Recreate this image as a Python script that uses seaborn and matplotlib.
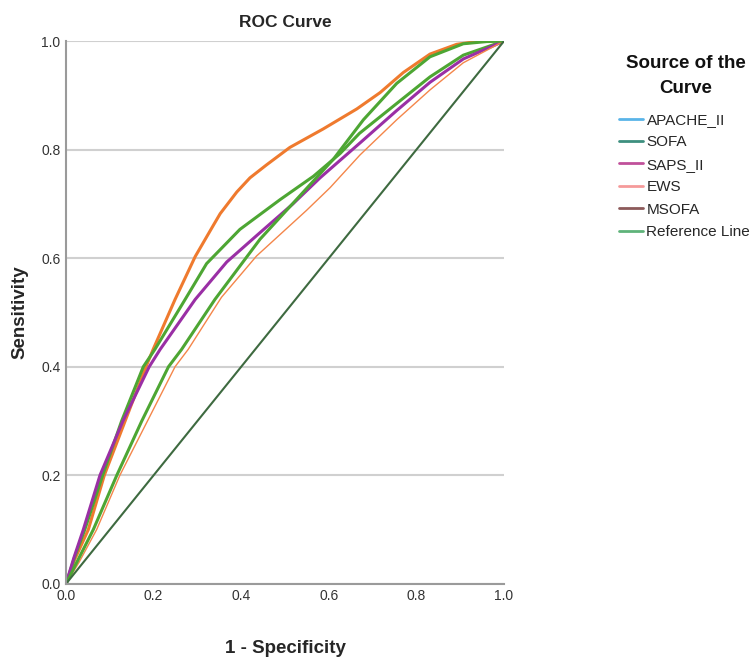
import pandas as pd
import matplotlib.pyplot as plt
import seaborn as sns
from matplotlib.lines import Line2D

# ROC points (1 - specificity, sensitivity)
apache_x = [0.0, 0.02, 0.051, 0.0875, 0.135, 0.1826, 0.199, 0.249, 0.295, 0.336, 0.352, 0.39, 0.42,
            0.458, 0.511, 0.587, 0.664, 0.717, 0.77, 0.831, 0.892, 0.945, 1.0]
apache_y = [0.0, 0.045, 0.1, 0.2, 0.3, 0.4, 0.432, 0.524, 0.603, 0.66, 0.682, 0.722, 0.748,
            0.772, 0.804, 0.838, 0.875, 0.905, 0.942, 0.976, 0.994, 1.0, 1.0]

sofa_x = [0.0, 0.02, 0.043, 0.0837, 0.127, 0.1765, 0.203, 0.272, 0.321, 0.397, 0.489, 0.565,
          0.626, 0.67, 0.755, 0.831, 0.907, 1.0]
sofa_y = [0.0, 0.05, 0.1, 0.2, 0.3, 0.4, 0.432, 0.524, 0.59, 0.653, 0.708, 0.751,
          0.793, 0.83, 0.885, 0.934, 0.974, 1.0]

saps_x = [0.0, 0.018, 0.0396, 0.0776, 0.13, 0.19, 0.215, 0.295, 0.367, 0.44, 0.518, 0.58,
          0.675, 0.755, 0.831, 0.907, 1.0]
saps_y = [0.0, 0.048, 0.1, 0.2, 0.3, 0.4, 0.432, 0.524, 0.593, 0.645, 0.70, 0.748,
          0.815, 0.872, 0.924, 0.967, 1.0]

ews_x = [0.0, 0.03, 0.07, 0.123, 0.186, 0.249, 0.279, 0.355, 0.435, 0.549, 0.603, 0.671,
         0.755, 0.831, 0.907, 1.0]
ews_y = [0.0, 0.04, 0.1, 0.2, 0.3, 0.4, 0.432, 0.528, 0.604, 0.688, 0.73, 0.79,
         0.855, 0.91, 0.96, 1.0]

msofa_x = [0.0, 0.028, 0.0624, 0.116, 0.173, 0.234, 0.264, 0.34, 0.443, 0.534, 0.61, 0.679,
           0.755, 0.831, 0.907, 0.96, 1.0]
msofa_y = [0.0, 0.045, 0.1, 0.2, 0.3, 0.4, 0.432, 0.524, 0.635, 0.715, 0.782, 0.855,
           0.922, 0.971, 0.995, 0.999, 1.0]

ref_x = [0.0, 1.0]
ref_y = [0.0, 1.0]

labels = ["APACHE_II", "SOFA", "SAPS_II", "EWS", "MSOFA", "Reference Line"]
legend_colors = ["#5ab4e8", "#3d8f7f", "#c0509a", "#f59a9a", "#8c5a5a", "#5fb37a"]
line_colors = ["#ef7a2e", "#4da633", "#9a2fa5", "#f4864a", "#4da633", "#3e6a40"]
line_widths = [2.2, 2.2, 2.2, 1.0, 2.2, 1.5]

curves = [(apache_x, apache_y), (sofa_x, sofa_y), (saps_x, saps_y),
          (ews_x, ews_y), (msofa_x, msofa_y), (ref_x, ref_y)]

sns.set_style("white")
plt.rcParams["font.family"] = ["Liberation Sans", "DejaVu Sans"]

fig = plt.figure(figsize=(7.54, 6.62), dpi=100)
ax = fig.add_axes([0.0875, 0.118, 0.581, 0.82])

for (x, y), lab, c, lw in zip(curves, labels, line_colors, line_widths):
    df = pd.DataFrame({"x": x, "y": y})
    sns.lineplot(data=df, x="x", y="y", ax=ax, color=c, linewidth=lw,
                 sort=False, estimator=None, solid_joinstyle="round",
                 solid_capstyle="round")

ax.set_xlim(0, 1.0)
ax.set_ylim(0, 1.0)
ax.set_xticks([0, 0.2, 0.4, 0.6, 0.8, 1.0])
ax.set_yticks([0, 0.2, 0.4, 0.6, 0.8, 1.0])
ax.set_xticklabels(["0.0", "0.2", "0.4", "0.6", "0.8", "1.0"])
ax.set_yticklabels(["0.0", "0.2", "0.4", "0.6", "0.8", "1.0"])
ax.tick_params(length=0, labelsize=10, colors="#333333", pad=4)
ax.yaxis.grid(True, color="#d0d0d0", linewidth=1.5)
ax.xaxis.grid(False)
for s in ["top", "right"]:
    ax.spines[s].set_visible(False)
for s in ["left", "bottom"]:
    ax.spines[s].set_color("#9a9a9a")
    ax.spines[s].set_linewidth(1.5)

ax.set_title("ROC Curve", fontsize=12.5, fontweight="bold", pad=10)
ax.set_xlabel("1 - Specificity", fontsize=13.5, fontweight="bold", labelpad=26)
ax.set_ylabel("Sensitivity", fontsize=13.5, fontweight="bold", labelpad=9)

# legend title as its own text so its spacing can match
fig.text(686 / 754, 1 - 76 / 662, "Source of the\nCurve", ha="center", va="center",
         fontsize=13.5, fontweight="bold", linespacing=1.55, color="#111111")

handles = [Line2D([0], [0], color=c, linewidth=2) for c in legend_colors]
leg = fig.legend(handles, labels, loc="upper left",
                 bbox_to_anchor=(619 / 754, 1 - 113 / 662), frameon=False,
                 fontsize=11, handlelength=1.6, handletextpad=0.2,
                 labelspacing=0.55, borderaxespad=0, borderpad=0)

fig.savefig("out.png", dpi=100)
